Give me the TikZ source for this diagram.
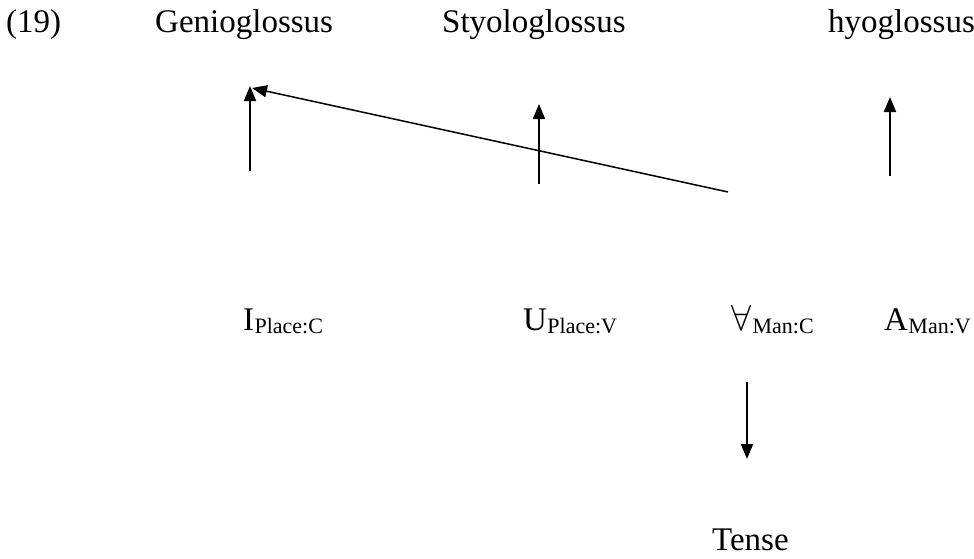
\documentclass[tikz,border=0pt]{standalone}
\usepackage{fontspec}
\setmainfont{Liberation Serif}
\usetikzlibrary{arrows.meta}
\tikzset{
  big/.style={inner sep=0pt, anchor=base west, font=\fontsize{33}{40}\selectfont},
  sub/.style={inner sep=0pt, anchor=base west, font=\fontsize{22}{26}\selectfont},
  arr/.style={line width=1.8pt, -{Triangle[length=15pt,width=12pt]}},
  diag/.style={line width=1.5pt, -{Triangle[length=15pt,width=12pt]}}
}
\begin{document}
\begin{tikzpicture}[x=1pt,y=-1pt]
\useasboundingbox (0,0) rectangle (974,558);
% top row
\node[big] (num) at (6,32) {(19)};
\node[big] (genio) at (155,32) {Genioglossus};
\node[big] (stylo) at (442,32) {Styologlossus};
\node[big] (hyo) at (828,32) {hyoglossus};
% label row
\node[big] (I) at (243,330) {I};
\node[sub] (Isub) at (I.base east) [yshift=-3pt] {Place:C};
\node[big] (U) at (523,330) {U};
\node[sub] (Usub) at (U.base east) [yshift=-3pt] {Place:V};
\node[big] (F) at (731,330) {\scalebox{1.45}{$\forall$}};
\node[sub] (Fsub) at (F.base east) [xshift=1pt,yshift=-3pt] {Man:C};
\node[big] (A) at (884,330) {A};
\node[sub] (Asub) at (A.base east) [yshift=-3pt] {Man:V};
\node[big] (tense) at (712,550) {Tense};
% arrow endpoints
\coordinate (a1s) at (250,171);
\coordinate (a1e) at (250,86);
\coordinate (a2s) at (539,184);
\coordinate (a2e) at (539,104);
\coordinate (a3s) at (890,176);
\coordinate (a3e) at (890,97);
\coordinate (ds) at (728,192);
\coordinate (de) at (252,88);
\coordinate (a4s) at (747,382);
\coordinate (a4e) at (747,459);
\draw[arr] (a1s) -- (a1e);
\draw[arr] (a2s) -- (a2e);
\draw[arr] (a3s) -- (a3e);
\draw[diag] (ds) -- (de);
\draw[arr] (a4s) -- (a4e);
\end{tikzpicture}
\end{document}
